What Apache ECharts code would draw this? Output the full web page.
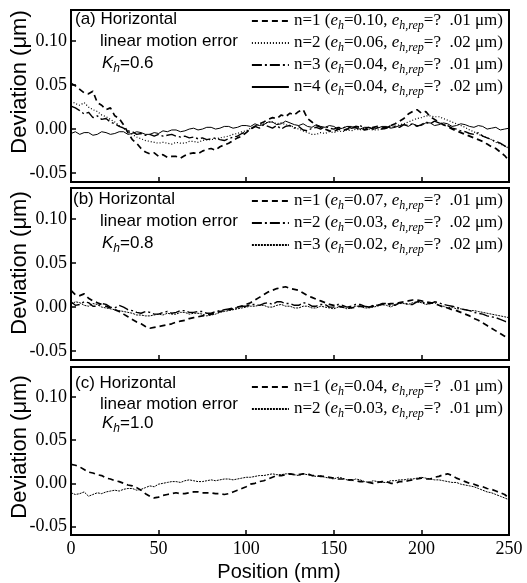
<!DOCTYPE html>
<html><head><meta charset="utf-8">
<script src="https://cdn.jsdelivr.net/npm/echarts@6/dist/echarts.min.js"></script>
<style>html,body{margin:0;padding:0;background:#fff}#c{width:527px;height:583px}</style>
</head><body><div id="c"></div>
<script>
// Position (mm)
var positions = [0,2.5,5,7.5,10,12.5,15,17.5,20,22.5,25,27.5,30,32.5,35,37.5,40,42.5,45,47.5,
50,52.5,55,57.5,60,62.5,65,67.5,70,72.5,75,77.5,80,82.5,85,87.5,90,92.5,95,97.5,
100,102.5,105,107.5,110,112.5,115,117.5,120,122.5,125,127.5,130,132.5,135,137.5,140,142.5,145,147.5,
150,152.5,155,157.5,160,162.5,165,167.5,170,172.5,175,177.5,180,182.5,185,187.5,190,192.5,195,197.5,
200,202.5,205,207.5,210,212.5,215,217.5,220,222.5,225,227.5,230,232.5,235,237.5,240,242.5,245,247.5,250];
var yTickValues = [-0.05, 0, 0.05, 0.10];

// Panel (a) Kh=0.6
var a_n1 = [0.052,0.049,0.045,0.041,0.040,0.043,0.030,0.027,0.022,0.024,
0.015,0.012,0.005,-0.004,-0.012,-0.016,-0.022,-0.026,-0.028,-0.027,
-0.031,-0.029,-0.032,-0.031,-0.031,-0.033,-0.030,-0.028,-0.027,-0.028,
-0.025,-0.023,-0.022,-0.024,-0.020,-0.018,-0.016,-0.013,-0.010,-0.008,
-0.004,0.000,0.003,0.006,0.008,0.011,0.013,0.012,0.016,0.014,
0.018,0.016,0.020,0.022,0.012,0.008,0.004,0.002,0.000,-0.002,
-0.003,0.000,-0.002,0.000,0.001,0.003,0.002,-0.001,0.000,0.002,
0.003,0.001,0.002,0.004,0.006,0.009,0.012,0.017,0.020,0.022,
0.018,0.020,0.014,0.011,0.008,0.005,0.003,0.000,-0.002,-0.004,
-0.006,-0.008,-0.010,-0.012,-0.014,-0.017,-0.020,-0.022,-0.026,-0.030,
-0.036];
var a_n2 = [0.032,0.029,0.027,0.030,0.025,0.022,0.020,0.016,0.014,0.011,
0.008,0.004,0.001,-0.003,-0.006,-0.009,-0.011,-0.013,-0.014,-0.015,
-0.016,-0.015,-0.016,-0.017,-0.015,-0.016,-0.016,-0.014,-0.014,-0.015,
-0.013,-0.012,-0.012,-0.011,-0.010,-0.009,-0.008,-0.006,-0.005,-0.003,
-0.002,0.001,0.003,0.005,0.006,0.008,0.008,0.006,0.007,0.005,
0.004,0.002,0.000,-0.002,-0.004,-0.006,-0.006,-0.004,-0.005,-0.003,
-0.004,-0.002,-0.003,-0.001,-0.002,0.000,-0.001,0.001,0.000,-0.001,
-0.001,0.000,0.001,0.002,0.003,0.005,0.006,0.008,0.010,0.012,
0.013,0.015,0.015,0.014,0.014,0.012,0.010,0.008,0.006,0.004,
0.002,-0.001,-0.003,-0.006,-0.008,-0.010,-0.012,-0.015,-0.017,-0.019,
-0.022];
var a_n3 = [0.026,0.024,0.021,0.017,0.019,0.013,0.015,0.011,0.012,0.008,
0.006,0.003,0.001,-0.002,-0.003,-0.006,-0.005,-0.007,-0.006,-0.008,
-0.006,-0.008,-0.007,-0.006,-0.008,-0.009,-0.008,-0.010,-0.009,-0.011,
-0.010,-0.012,-0.011,-0.010,-0.012,-0.013,-0.011,-0.009,-0.008,-0.005,
-0.003,0.000,0.003,0.001,0.005,0.003,0.001,0.004,0.000,0.003,
0.004,0.001,0.003,-0.001,-0.002,0.001,0.002,0.000,0.003,0.001,
0.000,0.002,0.001,0.003,0.001,0.002,0.004,0.001,0.002,0.000,
0.002,0.000,0.001,0.004,0.003,0.002,0.005,0.004,0.006,0.003,
0.005,0.008,0.006,0.009,0.007,0.005,0.004,0.001,0.000,-0.002,
-0.003,-0.005,-0.006,-0.004,-0.008,-0.010,-0.012,-0.014,-0.016,-0.019,
-0.022];
var a_n4 = [-0.005,-0.003,-0.006,-0.004,-0.004,-0.007,-0.006,-0.003,-0.004,-0.006,
-0.005,-0.003,-0.003,-0.006,-0.005,-0.003,-0.004,-0.006,-0.006,-0.004,
-0.005,-0.002,-0.003,-0.001,-0.001,-0.003,-0.002,0.000,0.001,-0.001,
0.000,0.002,0.002,0.000,0.001,0.003,0.003,0.001,0.002,0.004,
0.004,0.003,0.006,0.004,0.005,0.008,0.008,0.005,0.006,0.009,
0.007,0.005,0.004,0.006,0.003,0.002,0.005,0.003,0.002,0.004,
0.003,0.000,0.001,0.003,0.003,0.001,0.000,0.002,0.002,0.000,
0.001,0.003,0.003,0.001,0.002,0.004,0.005,0.003,0.006,0.004,
0.004,0.007,0.007,0.004,0.005,0.007,0.006,0.003,0.004,0.006,
0.005,0.003,0.002,0.004,0.003,0.000,0.001,0.002,-0.001,0.000,
0.001];
// Panel (b) Kh=0.8
var b_n1 = [0.019,0.014,0.013,0.015,0.010,0.007,0.005,0.003,0.001,-0.001,
-0.003,-0.005,-0.008,-0.011,-0.014,-0.017,-0.019,-0.022,-0.024,-0.023,
-0.022,-0.021,-0.020,-0.019,-0.017,-0.016,-0.015,-0.013,-0.012,-0.011,
-0.010,-0.009,-0.008,-0.007,-0.005,-0.004,-0.003,-0.002,0.000,0.001,
0.003,0.005,0.008,0.011,0.014,0.017,0.019,0.021,0.022,0.023,
0.021,0.020,0.019,0.016,0.013,0.011,0.009,0.007,0.005,0.003,
0.002,0.001,0.000,-0.001,-0.001,0.000,0.001,0.000,0.000,0.001,
0.002,0.003,0.003,0.004,0.004,0.005,0.006,0.007,0.008,0.008,
0.007,0.006,0.005,0.004,0.002,0.000,-0.001,-0.003,-0.004,-0.006,
-0.008,-0.010,-0.013,-0.015,-0.018,-0.021,-0.024,-0.027,-0.030,-0.033,
-0.036];
var b_n2 = [0.006,0.002,0.003,0.006,0.005,0.001,0.001,0.004,0.003,0.000,
-0.001,0.002,0.000,-0.003,-0.004,-0.006,-0.007,-0.005,-0.006,-0.008,
-0.008,-0.006,-0.005,-0.007,-0.006,-0.004,-0.004,-0.006,-0.006,-0.005,
-0.005,-0.007,-0.007,-0.005,-0.004,-0.003,-0.002,-0.001,-0.001,0.001,
0.001,0.003,0.003,0.002,0.004,0.005,0.003,0.006,0.006,0.004,
0.004,0.002,0.002,0.005,0.004,0.001,0.001,0.003,0.003,0.000,
0.000,0.003,0.002,0.000,0.001,0.003,0.003,0.001,0.000,0.002,
0.002,0.004,0.004,0.002,0.002,0.005,0.005,0.003,0.003,0.006,
0.006,0.004,0.004,0.006,0.005,0.003,0.002,0.001,0.000,-0.002,
-0.003,-0.004,-0.006,-0.007,-0.008,-0.010,-0.011,-0.012,-0.014,-0.016,
-0.018];
var b_n3 = [0.003,0.006,0.005,0.002,0.001,0.004,0.003,0.000,-0.001,-0.002,
-0.003,-0.004,-0.005,-0.006,-0.007,-0.009,-0.009,-0.010,-0.010,-0.009,
-0.008,-0.009,-0.007,-0.008,-0.008,-0.006,-0.006,-0.008,-0.007,-0.007,
-0.008,-0.010,-0.009,-0.008,-0.006,-0.005,-0.004,-0.003,-0.002,-0.001,
0.000,0.001,0.001,0.002,0.002,0.000,0.000,0.002,0.003,0.001,
0.001,-0.001,-0.001,0.001,0.001,-0.001,-0.001,0.001,0.000,-0.001,
-0.002,0.000,0.000,-0.002,-0.001,0.001,0.001,-0.001,-0.001,0.000,
0.001,0.003,0.002,0.000,0.003,0.004,0.004,0.003,0.005,0.006,
0.005,0.003,0.004,0.005,0.002,0.001,-0.001,0.000,-0.002,-0.002,
-0.003,-0.004,-0.004,-0.005,-0.006,-0.007,-0.008,-0.009,-0.010,-0.011,
-0.012];
// Panel (c) Kh=1.0
var c_n1 = [0.022,0.021,0.019,0.016,0.013,0.012,0.010,0.009,0.006,0.005,
0.003,0.002,0.000,-0.002,-0.003,-0.005,-0.008,-0.012,-0.015,-0.017,
-0.016,-0.014,-0.013,-0.012,-0.011,-0.012,-0.012,-0.011,-0.010,-0.010,
-0.011,-0.011,-0.011,-0.012,-0.012,-0.013,-0.012,-0.010,-0.008,-0.006,
-0.004,-0.001,0.000,0.002,0.003,0.005,0.007,0.009,0.009,0.010,
0.011,0.010,0.010,0.011,0.011,0.009,0.009,0.008,0.008,0.007,
0.006,0.005,0.005,0.004,0.004,0.003,0.002,0.002,0.001,0.000,
0.001,0.002,0.002,0.000,0.000,0.002,0.002,0.003,0.004,0.005,
0.006,0.005,0.005,0.007,0.008,0.010,0.011,0.009,0.006,0.004,
0.002,0.000,-0.001,-0.003,-0.004,-0.006,-0.007,-0.009,-0.011,-0.013,
-0.017];
var c_n2 = [-0.011,-0.013,-0.012,-0.010,-0.015,-0.013,-0.011,-0.012,-0.010,-0.009,
-0.008,-0.009,-0.007,-0.006,-0.006,-0.008,-0.007,-0.005,-0.003,-0.004,
-0.001,0.000,0.001,0.002,0.002,0.001,0.003,0.004,0.003,0.002,
0.002,0.003,0.004,0.003,0.004,0.005,0.005,0.004,0.005,0.006,
0.007,0.007,0.008,0.009,0.009,0.010,0.011,0.010,0.010,0.011,
0.011,0.010,0.009,0.011,0.010,0.009,0.008,0.009,0.007,0.006,
0.005,0.007,0.006,0.004,0.003,0.005,0.004,0.002,0.001,0.003,
0.002,0.001,0.001,0.003,0.003,0.004,0.004,0.005,0.005,0.006,
0.007,0.006,0.005,0.004,0.004,0.003,0.002,0.001,0.001,-0.001,
-0.002,-0.003,-0.004,-0.006,-0.008,-0.010,-0.011,-0.013,-0.015,-0.017,
-0.019];

// legend text parts: [n, e_h, e_h,rep]
var legendA = [['1','0.10','.01'],['2','0.06','.02'],['3','0.04','.01'],['4','0.04','.02']];
var legendB = [['1','0.07','.01'],['2','0.03','.02'],['3','0.02','.02']];
var legendC = [['1','0.04','.01'],['2','0.03','.01']];
var panelLabels = ['(a) Horizontal','(b) Horizontal','(c) Horizontal'];
var khLabels = ['0.6','0.8','1.0'];

var DASH = [6,4], DOT = [1,2], DASHDOT = [10,3,2,3], FINE = [2,1];
var SERIF = 'Liberation Serif', SANS = 'Liberation Sans';

function pairs(ys){ var o=[]; for(var i=0;i<ys.length;i++) o.push([positions[i], ys[i]]); return o; }

var panels = [
  {data:[a_n1,a_n2,a_n3,a_n4], styles:[DASH,DOT,DASHDOT,'solid'], widths:[1.7,1.2,1.4,1], leg:legendA, key:'A'},
  {data:[b_n1,b_n2,b_n3], styles:[DASH,DASHDOT,FINE], widths:[1.7,1.4,1], leg:legendB, key:'B'},
  {data:[c_n1,c_n2], styles:[DASH,FINE], widths:[1.7,1], leg:legendC, key:'C'}
];
var gridTops = [10,188,367], gridHeights = [172,172,168];
var legendTops = [10,190,376];
var textRows = [[21,43,66],[201,223,246],[385,406,426]];
var devCenters = [82,263,447];

var labelMap = {};
var series = [], legends = [], grids = [], xAxes = [], yAxes = [], graphics = [];
panels.forEach(function(p, gi){
  grids.push({left:71, right:18, top:gridTops[gi], height:gridHeights[gi], show:true, borderColor:'#000', borderWidth:2, backgroundColor:'transparent'});
  xAxes.push({gridIndex:gi, type:'value', min:0, max:250, interval:50,
    axisLine:{show:true, onZero:false, lineStyle:{color:'#000', width:2}},
    axisTick:{show:true, inside:true, length:5, lineStyle:{color:'#000', width:1.5}},
    axisLabel:{show: gi===2, color:'#000', fontFamily:SERIF, fontSize:18, margin:5, showMinLabel:true, showMaxLabel:true},
    splitLine:{show:false}});
  yAxes.push({gridIndex:gi, type:'value', min:-0.06, max:0.135,
    axisLine:{show:true, onZero:false, lineStyle:{color:'#000', width:2}},
    axisTick:{show:true, inside:true, length:5, customValues:yTickValues, lineStyle:{color:'#000', width:1.5}},
    axisLabel:{customValues:yTickValues, formatter:function(v){return v.toFixed(2);}, color:'#000', fontFamily:SERIF, fontSize:18, margin:4},
    splitLine:{show:false}});
  var names = [];
  p.data.forEach(function(d, si){
    var nm = p.key + si;
    var L = p.leg[si];
    labelMap[nm] = 'n=' + L[0] + ' ({i|e}{s|h}=' + L[1] + ', {i|e}{s|h,rep}=?  ' + L[2] + ' μm)';
    names.push(nm);
    series.push({name:nm, type:'line', xAxisIndex:gi, yAxisIndex:gi, data:pairs(d), symbol:'none', showSymbol:false,
      lineStyle:{color:'#000', width:p.widths[si], type:p.styles[si]}, itemStyle:{color:'#000'}, animation:false, silent:true});
  });
  legends.push({data:names, orient:'vertical', right:24, top:legendTops[gi], padding:0, itemGap:0, itemWidth:37, itemHeight:14,
    selectedMode:false, formatter:function(n){return labelMap[n];},
    itemStyle:{opacity:0},
    textStyle:{color:'#000', fontFamily:SERIF, fontSize:17, lineHeight:22,
      rich:{i:{fontStyle:'italic', fontFamily:SERIF, fontSize:17, lineHeight:22, color:'#000'},
            s:{fontStyle:'italic', fontFamily:SERIF, fontSize:12, lineHeight:14, verticalAlign:'bottom', color:'#000'}}}});
  var r = textRows[gi];
  graphics.push({type:'text', left:gi===1?73:75, top:r[0]-10, style:{text:panelLabels[gi], font:'17px "Liberation Sans"', fill:'#000'}});
  graphics.push({type:'text', left:100, top:r[1]-10, style:{text:'linear motion error', font:'17px "Liberation Sans"', fill:'#000'}});
  graphics.push({type:'text', left:102, top:r[2]-11, style:{text:'{k|K}{h|h}{n|=' + khLabels[gi] + '}',
    rich:{k:{fontFamily:SANS, fontStyle:'italic', fontSize:17, lineHeight:22, fill:'#000'},
          h:{fontFamily:SANS, fontStyle:'italic', fontSize:12, lineHeight:14, verticalAlign:'bottom', fill:'#000'},
          n:{fontFamily:SANS, fontSize:17, lineHeight:22, fill:'#000'}}}});
  graphics.push({type:'text', x:20, y:devCenters[gi], rotation:Math.PI/2,
    style:{text:'Deviation (μm)', font:'22px "Liberation Sans"', fill:'#000', align:'center', verticalAlign:'middle'}});
});
graphics.push({type:'text', x:279, y:572, style:{text:'Position (mm)', font:'20px "Liberation Sans"', fill:'#000', align:'center', verticalAlign:'middle'}});

var chart = echarts.init(document.getElementById('c'), null, {renderer:'canvas'});
chart.setOption({
  animation:false, backgroundColor:'#fff',
  grid:grids, xAxis:xAxes, yAxis:yAxes, legend:legends, series:series, graphic:graphics
});
</script></body></html>
